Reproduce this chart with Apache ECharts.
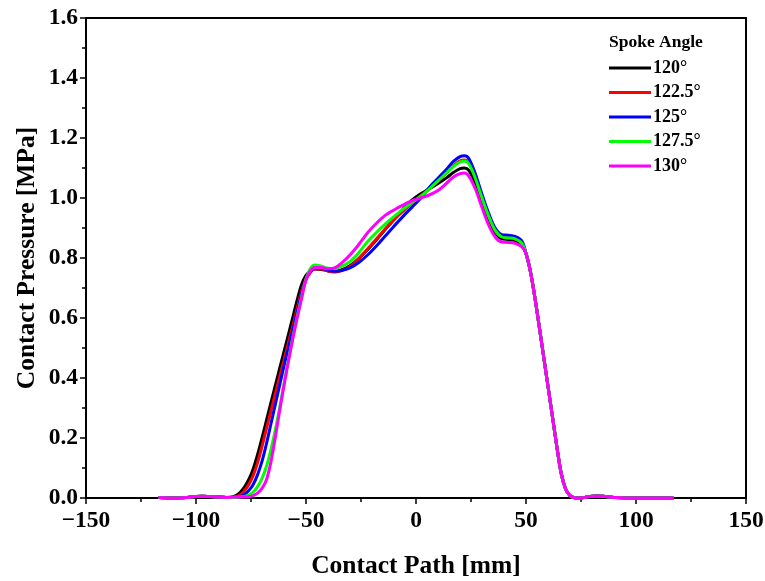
<!DOCTYPE html>
<html>
<head>
<meta charset="utf-8">
<script src="https://cdn.jsdelivr.net/npm/echarts@6/dist/echarts.min.js"></script>
<style>html,body{margin:0;padding:0;background:#fff;}#c{width:765px;height:581px;}</style>
</head>
<body>
<div id="c"></div>
<script>
// Shared x positions (Contact Path, mm)
const X = [-117,-110,-104,-100,-97,-94,-90,-86,-83,-80,-78,-76,-74,-72,-70,-68,-66,-64,-62,-60,-58,-56,-54,-52,-50,-48,-46,-43,-40,-37,-34,-30,-26,-22,-18,-14,-10,-6,-2,2,6,10,14,17,20,22,24,27,30,33,36,39,42,45,48,50,52,54,56,58,60,62,64,66,68,70,72,75,78,82,86,90,95,100,108,117];

const tailL = [0.002,0.0,0.002,0.005,0.006,0.005,0.003,0.002];
const tailR = [0.815,0.755,0.67,0.572,0.472,0.372,0.272,0.172,0.082,0.03,0.008,0.001,0.0,0.004,0.007,0.005,0.002,0.0,0.0,0.0,0.0];

const y120 = [].concat(tailL,
  [0.004,0.018,0.036,0.062,0.097,0.145,0.2,0.258,0.316,0.374,0.431,0.488,0.545,0.602,0.66,0.712,0.742,0.757,0.763],
  [0.762,0.757,0.755,0.76,0.774,0.798,0.828,0.86,0.895,0.928,0.962,0.992,1.013,1.03,1.048,1.068,1.085,1.098,1.1,1.092,1.05,0.99,0.932,0.885,0.864,0.862,0.858,0.845],
  tailR);
const y1225 = [].concat(tailL,
  [0.002,0.01,0.024,0.045,0.075,0.118,0.172,0.23,0.288,0.346,0.403,0.46,0.517,0.574,0.632,0.688,0.73,0.752,0.764],
  [0.763,0.757,0.753,0.757,0.771,0.798,0.83,0.863,0.897,0.928,0.955,0.982,1.005,1.03,1.056,1.086,1.108,1.124,1.127,1.118,1.068,1.003,0.942,0.893,0.872,0.868,0.864,0.85],
  tailR);
const y125 = [].concat(tailL,
  [0.002,0.005,0.012,0.025,0.045,0.078,0.122,0.18,0.245,0.31,0.375,0.44,0.5,0.56,0.62,0.68,0.728,0.755,0.765],
  [0.765,0.76,0.756,0.758,0.767,0.785,0.81,0.84,0.873,0.906,0.938,0.968,0.998,1.035,1.066,1.097,1.122,1.138,1.141,1.132,1.08,1.012,0.95,0.9,0.878,0.876,0.872,0.858],
  tailR);
const y1275 = [].concat(tailL,
  [0.002,0.003,0.005,0.01,0.02,0.038,0.065,0.105,0.16,0.225,0.3,0.38,0.46,0.535,0.605,0.67,0.73,0.765,0.777],
  [0.773,0.766,0.765,0.772,0.788,0.818,0.855,0.885,0.913,0.938,0.962,0.984,1.005,1.03,1.057,1.085,1.105,1.12,1.123,1.114,1.065,1.0,0.94,0.892,0.87,0.867,0.864,0.85],
  tailR);
const y130 = [].concat(tailL,
  [0.003,0.003,0.003,0.004,0.008,0.016,0.032,0.06,0.118,0.2,0.29,0.375,0.455,0.53,0.6,0.665,0.727,0.757,0.768],
  [0.768,0.764,0.767,0.782,0.81,0.845,0.884,0.916,0.942,0.96,0.976,0.99,1.0,1.01,1.025,1.05,1.07,1.081,1.083,1.073,1.03,0.968,0.91,0.87,0.853,0.852,0.849,0.838],
  tailR);

const names = ['120°','122.5°','125°','127.5°','130°'];
const colors = ['#000000','#ff0000','#0000ff','#00ff00','#ff00ff'];
const Ys = [y120,y1225,y125,y1275,y130];

const FONT = "'Times New Roman','Liberation Serif',serif";
const chart = echarts.init(document.getElementById('c'), null, {renderer:'canvas'});
const axisLine = {show:true, onZero:false, lineStyle:{color:'#000', width:2}};
chart.setOption({
  animation:false,
  backgroundColor:'#fff',
  title:{text:'Spoke Angle', left:609, top:33, padding:0, textStyle:{fontFamily:FONT, fontWeight:'bold', fontSize:17.5, color:'#000'}},
  legend:{orient:'vertical', left:609, top:59, padding:0, itemWidth:42, itemHeight:3, itemGap:6.5, icon:'rect',
    data:names,
    textStyle:{fontFamily:FONT, fontWeight:'bold', fontSize:18, color:'#000', padding:[0,0,0,-3]}},
  grid:{left:86, right:19, top:18, bottom:83, containLabel:false, outerBoundsMode:'none'},
  xAxis:[{type:'value', min:-150, max:150, interval:50, position:'bottom',
    name:'Contact Path [mm]', nameLocation:'middle', nameGap:55, nameMoveOverlap:false,
    nameTextStyle:{fontFamily:FONT, fontWeight:'bold', fontSize:25.5, color:'#000'},
    axisLine:axisLine, axisTick:{show:true, length:6, lineStyle:{width:1.5,color:'#000'}},
    minorTick:{show:true, splitNumber:2, length:4, lineStyle:{width:1.5,color:'#000'}},
    splitLine:{show:false}, minorSplitLine:{show:false},
    axisLabel:{margin:11, fontFamily:FONT, fontWeight:'bold', fontSize:23.5, color:'#000',
      formatter:v=>String(v).replace('-','\u2212')}},
    {type:'value', min:-150, max:150, position:'top', axisLine:axisLine, axisTick:{show:false}, axisLabel:{show:false}, splitLine:{show:false}}],
  yAxis:[{type:'value', min:0, max:1.6, interval:0.2, position:'left',
    name:'Contact Pressure [MPa]', nameLocation:'middle', nameGap:46, nameMoveOverlap:false,
    nameTextStyle:{fontFamily:FONT, fontWeight:'bold', fontSize:25.5, color:'#000'},
    axisLine:axisLine, axisTick:{show:true, length:6, lineStyle:{width:1.5,color:'#000'}},
    minorTick:{show:true, splitNumber:2, length:4, lineStyle:{width:1.5,color:'#000'}},
    splitLine:{show:false}, minorSplitLine:{show:false},
    axisLabel:{margin:8, fontFamily:FONT, fontWeight:'bold', fontSize:23.5, color:'#000',
      formatter:v=>v.toFixed(1)}},
    {type:'value', min:0, max:1.6, position:'right', axisLine:axisLine, axisTick:{show:false}, axisLabel:{show:false}, splitLine:{show:false}}],
  series: Ys.map((ys,k)=>({
    name:names[k], type:'line', xAxisIndex:0, yAxisIndex:0,
    data: X.map((x,i)=>[x, ys[i]]),
    symbol:'none', smooth:0.35, clip:false,
    lineStyle:{color:colors[k], width:3}, itemStyle:{color:colors[k]}
  }))
});
</script>
</body>
</html>
